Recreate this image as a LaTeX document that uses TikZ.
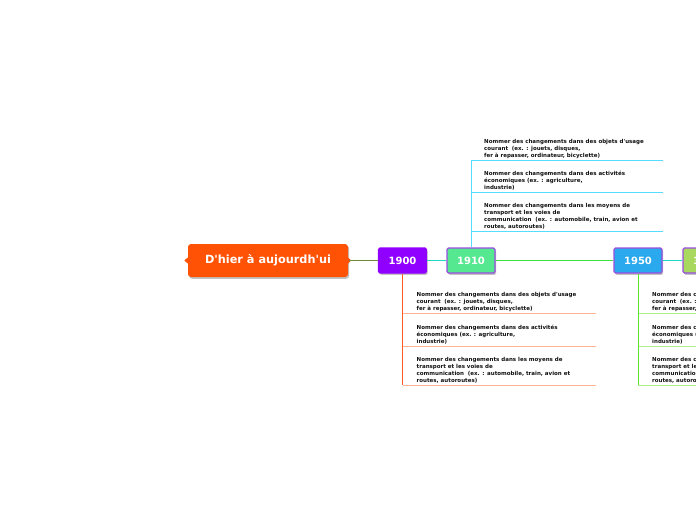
\documentclass[tikz,border=0pt]{standalone}
\usepackage{fontspec}
\setmainfont{DejaVu Sans}[Ligatures=TeXOff]
\usetikzlibrary{shadows}
\definecolor{cOrange}{HTML}{FF5204}
\definecolor{cPurple}{HTML}{9000FF}
\definecolor{cPurpleB}{HTML}{9B4DE0}
\definecolor{cGreen}{HTML}{55E890}
\definecolor{cBlue}{HTML}{2BA9EE}
\definecolor{cLime}{HTML}{A9D85F}
\definecolor{lOlive}{HTML}{6E8A3C}
\definecolor{lTeal}{HTML}{20D8C0}
\definecolor{lGreen}{HTML}{3CE23C}
\definecolor{lCyan}{HTML}{55DDFF}
\definecolor{lOrV}{HTML}{FF5A20}
\definecolor{lOrH}{HTML}{FFB496}
\definecolor{lGrV}{HTML}{5AE628}
\definecolor{lGrH}{HTML}{AEF08C}
\definecolor{txt}{HTML}{111111}
\tikzset{
  shad/.style={drop shadow={opacity=0.4,shadow xshift=1.2pt,shadow yshift=-1.8pt,fill=black!60}},
  central/.style={shad,fill=cOrange,rounded corners=3pt,minimum width=160pt,minimum height=33pt,
     text=white,font=\fontsize{11.3}{13}\selectfont\bfseries,inner sep=0pt},
  year/.style={shad,rounded corners=1.5pt,minimum width=48pt,minimum height=25pt,
     text=white,font=\fontsize{10}{12}\selectfont\bfseries,inner sep=0pt,line width=1.2pt},
  info/.style={anchor=south west,align=left,inner xsep=0pt,inner ysep=1.6pt,text=txt,
     font=\fontsize{5.5}{6.9}\selectfont\bfseries},
  link/.style={line width=0.9pt},
}
\newcommand{\blockA}{Nommer des changements dans des objets d'usage\\courant\ \ (ex. : jouets, disques,\\fer à repasser, ordinateur, bicyclette)}
\newcommand{\blockB}{Nommer des changements dans des activités\\économiques (ex. : agriculture,\\industrie)}
\newcommand{\blockC}{Nommer des changements dans les moyens de\\transport et les voies de\\communication\ \ (ex. : automobile, train, avion et\\routes, autoroutes)}
\begin{document}
\begin{tikzpicture}[x=1pt,y=-1pt]
\useasboundingbox (0,0) rectangle (696,520);
\coordinate (cR) at (349,260.5);
\node[year,fill=cPurple,draw=cPurple] (y1900) at (402.5,260.5) {1900};
\node[year,fill=cGreen,draw=cPurpleB] (y1910) at (471,260.5) {1910};
\node[year,fill=cBlue,draw=cPurpleB] (y1950) at (638,260.5) {1950};
\node[year,fill=cLime,draw=cPurpleB] (y1970) at (707,260.5) {1970};
% 1910 branch (up)
\coordinate (a1) at (471,160); \coordinate (a1e) at (663,160);
\coordinate (a2) at (471,192); \coordinate (a2e) at (663,192);
\coordinate (a3) at (471,231); \coordinate (a3e) at (663,231);
\draw[link,lCyan] (y1910.north) -- (a1);
\draw[link,lCyan] (a1) -- (a1e);
\draw[link,lCyan] (a2) -- (a2e);
\draw[link,lCyan] (a3) -- (a3e);
\node[info] (t1910a) at (484,160) {\blockA};
\node[info] (t1910b) at (484,192) {\blockB};
\node[info] (t1910c) at (484,231) {\blockC};
% 1900 branch (down)
\coordinate (b1) at (402.5,313); \coordinate (b1e) at (596,313);
\coordinate (b2) at (402.5,346); \coordinate (b2e) at (596,346);
\coordinate (b3) at (402.5,385); \coordinate (b3e) at (596,385);
\draw[link,lOrH] (b1) -- (b1e);
\draw[link,lOrH] (b2) -- (b2e);
\draw[link,lOrH] (b3) -- (b3e);
\draw[link,lOrV] (y1900.south) -- (b3);
\node[info] (t1900a) at (416.5,313) {\blockA};
\node[info] (t1900b) at (416.5,346) {\blockB};
\node[info] (t1900c) at (416.5,385) {\blockC};
% 1950 branch (down)
\coordinate (c1) at (638,313); \coordinate (c1e) at (720,313);
\coordinate (c2) at (638,346); \coordinate (c2e) at (720,346);
\coordinate (c3) at (638,385); \coordinate (c3e) at (720,385);
\draw[link,lGrH] (c1) -- (c1e);
\draw[link,lGrH] (c2) -- (c2e);
\draw[link,lGrH] (c3) -- (c3e);
\draw[link,lGrV] (y1950.south) -- (c3);
\node[info] (t1950a) at (652,313) {\blockA};
\node[info] (t1950b) at (652,346) {\blockB};
\node[info] (t1950c) at (652,385) {\blockC};
% central node
\node[central] (root) at (268,260.5) {D'hier à aujourdh'ui};
\fill[cOrange] ([yshift=3pt]root.west) -- ++(-3.5pt,-3pt) -- ++(3.5pt,-3pt) -- cycle;
\fill[cOrange] ([yshift=3pt]root.east) -- ++(3pt,-3pt) -- ++(-3pt,-3pt) -- cycle;
% spine
\draw[link,lOlive] (cR) -- (y1900.west);
\draw[link,lTeal] (y1900.east) -- (y1910.west);
\draw[link,lGreen] (y1910.east) -- (y1950.west);
\draw[link,lTeal] (y1950.east) -- (y1970.west);
\end{tikzpicture}
\end{document}
